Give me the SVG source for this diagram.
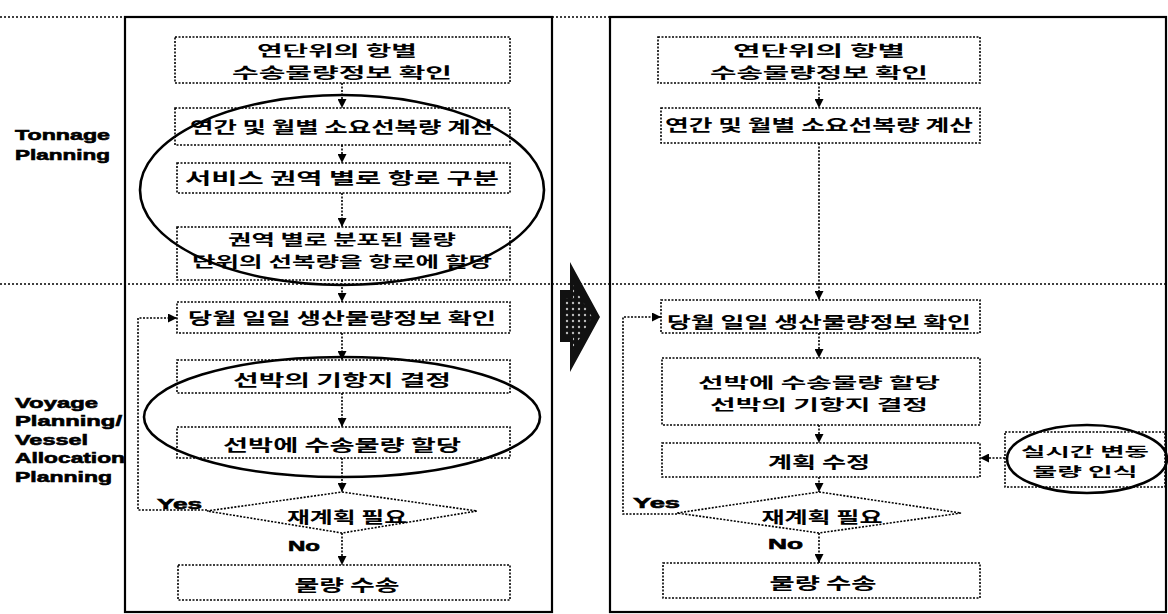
<svg xmlns="http://www.w3.org/2000/svg" width="1168" height="614" viewBox="0 0 1168 614">
<style>
.bx{fill:none;stroke:#000;stroke-width:1.6;stroke-dasharray:2 1.5}
.pn{fill:none;stroke:#000;stroke-width:2.2}
.sep{fill:none;stroke:#000;stroke-width:1.6;stroke-dasharray:2 2}
.cn{fill:none;stroke:#000;stroke-width:1.6;stroke-dasharray:2 1.5}
.el{fill:none;stroke:#000;stroke-width:2.6}
.k{font-family:"Noto Sans CJK KR","Noto Sans",sans-serif;font-weight:bold;font-size:16px;text-anchor:middle;fill:#000}
.k2{font-family:"Noto Sans CJK KR","Noto Sans",sans-serif;font-weight:bold;font-size:14.5px;text-anchor:middle;fill:#000}
.k3{font-family:"Noto Sans CJK KR","Noto Sans",sans-serif;font-weight:bold;font-size:13px;text-anchor:middle;fill:#000}
.e{font-family:"Liberation Sans",Arial,sans-serif;font-weight:bold;font-size:15px;fill:#000;stroke:#000;stroke-width:0.6}
</style>
<defs>
<marker id="ah" viewBox="0 0 10 10" refX="10" refY="5" markerWidth="9" markerHeight="9" markerUnits="userSpaceOnUse" orient="auto">
<path d="M0,0 L10,5 L0,10 z" fill="#000"/>
</marker>
<pattern id="dots" width="6" height="6" patternUnits="userSpaceOnUse">
<rect width="6" height="6" fill="#111"/>
<circle cx="3" cy="3" r="1.2" fill="#bbb"/>
</pattern>
</defs>

<g id="frame">
<line class="sep" x1="0" y1="17" x2="125" y2="17"/>
<line class="sep" x1="552" y1="17" x2="610" y2="17"/>
<rect class="pn" x="125" y="17" width="427" height="595"/>
<rect class="pn" x="610" y="17" width="556" height="595"/>
<line class="sep" x1="0" y1="284" x2="1168" y2="284"/>
</g>

<g id="labels">
<text class="e" x="15" y="140" textLength="95" lengthAdjust="spacingAndGlyphs">Tonnage</text>
<text class="e" x="15" y="160" textLength="95" lengthAdjust="spacingAndGlyphs">Planning</text>
<text class="e" x="15" y="408" textLength="83" lengthAdjust="spacingAndGlyphs">Voyage</text>
<text class="e" x="15" y="426" textLength="107" lengthAdjust="spacingAndGlyphs">Planning/</text>
<text class="e" x="15" y="445" textLength="73" lengthAdjust="spacingAndGlyphs">Vessel</text>
<text class="e" x="15" y="463" textLength="110" lengthAdjust="spacingAndGlyphs">Allocation</text>
<text class="e" x="15" y="482" textLength="97" lengthAdjust="spacingAndGlyphs">Planning</text>
</g>

<g id="bigarrow">
<polygon points="570,262 600,317 570,372 570,342 560,342 560,290 570,290" fill="#111"/>
<polygon points="573,285 592,317 573,350 573,335 565,335 565,298 573,298" fill="url(#dots)"/>
</g>

<g id="connectors">
<line class="cn" x1="342" y1="83" x2="342" y2="108" marker-end="url(#ah)"/>
<line class="cn" x1="342" y1="145" x2="342" y2="163" marker-end="url(#ah)"/>
<line class="cn" x1="342" y1="193" x2="342" y2="227" marker-end="url(#ah)"/>
<line class="cn" x1="342" y1="280" x2="342" y2="302" marker-end="url(#ah)"/>
<line class="cn" x1="342" y1="333" x2="342" y2="360" marker-end="url(#ah)"/>
<line class="cn" x1="342" y1="393" x2="342" y2="427" marker-end="url(#ah)"/>
<line class="cn" x1="342" y1="458" x2="342" y2="492" marker-end="url(#ah)"/>
<line class="cn" x1="342" y1="533" x2="342" y2="565" marker-end="url(#ah)"/>
<polyline class="cn" points="207,510 138,510 138,318 177,318" marker-end="url(#ah)"/>

<line class="cn" x1="819" y1="83" x2="819" y2="108" marker-end="url(#ah)"/>
<line class="cn" x1="819" y1="143" x2="819" y2="300" marker-end="url(#ah)"/>
<line class="cn" x1="819" y1="333" x2="819" y2="358" marker-end="url(#ah)"/>
<line class="cn" x1="819" y1="425" x2="819" y2="443" marker-end="url(#ah)"/>
<line class="cn" x1="819" y1="477" x2="819" y2="492" marker-end="url(#ah)"/>
<line class="cn" x1="819" y1="533" x2="819" y2="563" marker-end="url(#ah)"/>
<polyline class="cn" points="677,514 623,514 623,317 661,317" marker-end="url(#ah)"/>
<line class="cn" x1="1005" y1="458" x2="980" y2="458" marker-end="url(#ah)"/>
<text class="e" x="157" y="509" textLength="45" lengthAdjust="spacingAndGlyphs">Yes</text>
<text class="e" x="288" y="551" textLength="32" lengthAdjust="spacingAndGlyphs">No</text>
<text class="e" x="633" y="508" textLength="47" lengthAdjust="spacingAndGlyphs">Yes</text>
<text class="e" x="768" y="549" textLength="35" lengthAdjust="spacingAndGlyphs">No</text>
</g>

<g id="L1"><rect class="bx" x="175" y="37" width="335" height="46"/>
<text class="k2" x="337" y="56" textLength="160" lengthAdjust="spacingAndGlyphs">연단위의 항별</text>
<text class="k2" x="342" y="78" textLength="220" lengthAdjust="spacingAndGlyphs">수송물량정보 확인</text></g>
<g id="L2"><rect class="bx" x="175" y="108" width="335" height="37"/>
<text class="k" x="342" y="133" textLength="304" lengthAdjust="spacingAndGlyphs">연간 및 월별 소요선복량 계산</text></g>
<g id="L3"><rect class="bx" x="177" y="163" width="333" height="30"/>
<text class="k" x="342" y="184" textLength="314" lengthAdjust="spacingAndGlyphs">서비스 권역 별로 항로 구분</text></g>
<g id="L4"><rect class="bx" x="177" y="227" width="333" height="53"/>
<text class="k2" x="342" y="245" textLength="228" lengthAdjust="spacingAndGlyphs">권역 별로 분포된 물량</text>
<text class="k2" x="342" y="267" textLength="300" lengthAdjust="spacingAndGlyphs">단위의 선복량을 항로에 할당</text></g>
<g id="L5"><rect class="bx" x="177" y="302" width="333" height="31"/>
<text class="k" x="342" y="324" textLength="308" lengthAdjust="spacingAndGlyphs">당월 일일 생산물량정보 확인</text></g>
<g id="L6"><rect class="bx" x="177" y="360" width="333" height="33"/>
<text class="k" x="342" y="386" textLength="218" lengthAdjust="spacingAndGlyphs">선박의 기항지 결정</text></g>
<g id="L7"><rect class="bx" x="177" y="427" width="333" height="31"/>
<text class="k" x="342" y="451" textLength="238" lengthAdjust="spacingAndGlyphs">선박에 수송물량 할당</text></g>
<g id="L8"><polygon class="bx" points="342,492 477,511 342,533 207,511"/>
<text class="k" x="347" y="523" textLength="120" lengthAdjust="spacingAndGlyphs">재계획 필요</text></g>
<g id="L9"><rect class="bx" x="178" y="565" width="332" height="35"/>
<text class="k" x="347" y="591" textLength="105" lengthAdjust="spacingAndGlyphs">물량 수송</text></g>

<g id="ellipsesL">
<ellipse class="el" cx="342" cy="190" rx="202" ry="95"/>
<ellipse class="el" cx="342" cy="417" rx="198" ry="60"/>
</g>

<g id="R1"><rect class="bx" x="658" y="37" width="322" height="46"/>
<text class="k2" x="819" y="56" textLength="172" lengthAdjust="spacingAndGlyphs">연단위의 항별</text>
<text class="k2" x="819" y="78" textLength="218" lengthAdjust="spacingAndGlyphs">수송물량정보 확인</text></g>
<g id="R2"><rect class="bx" x="661" y="108" width="319" height="35"/>
<text class="k" x="819" y="131" textLength="308" lengthAdjust="spacingAndGlyphs">연간 및 월별 소요선복량 계산</text></g>
<g id="R3"><rect class="bx" x="661" y="300" width="319" height="33"/>
<text class="k" x="819" y="328" textLength="304" lengthAdjust="spacingAndGlyphs">당월 일일 생산물량정보 확인</text></g>
<g id="R4"><rect class="bx" x="662" y="358" width="318" height="67"/>
<text class="k2" x="819" y="388" textLength="242" lengthAdjust="spacingAndGlyphs">선박에 수송물량 할당</text>
<text class="k2" x="819" y="410" textLength="218" lengthAdjust="spacingAndGlyphs">선박의 기항지 결정</text></g>
<g id="R5"><rect class="bx" x="662" y="443" width="318" height="34"/>
<text class="k" x="819" y="468" textLength="102" lengthAdjust="spacingAndGlyphs">계획 수정</text></g>
<g id="R6"><polygon class="bx" points="819,492 961,513 819,533 677,513"/>
<text class="k" x="822" y="523" textLength="121" lengthAdjust="spacingAndGlyphs">재계획 필요</text></g>
<g id="R7"><rect class="bx" x="663" y="563" width="317" height="35"/>
<text class="k" x="823" y="589" textLength="107" lengthAdjust="spacingAndGlyphs">물량 수송</text></g>
<g id="R8"><rect class="bx" x="1005" y="432" width="160" height="55"/>
<ellipse class="el" cx="1087" cy="459" rx="80" ry="34"/>
<text class="k3" x="1085" y="456" textLength="128" lengthAdjust="spacingAndGlyphs">실시간 변동</text>
<text class="k3" x="1085" y="476" textLength="105" lengthAdjust="spacingAndGlyphs">물량 인식</text></g>
</svg>
